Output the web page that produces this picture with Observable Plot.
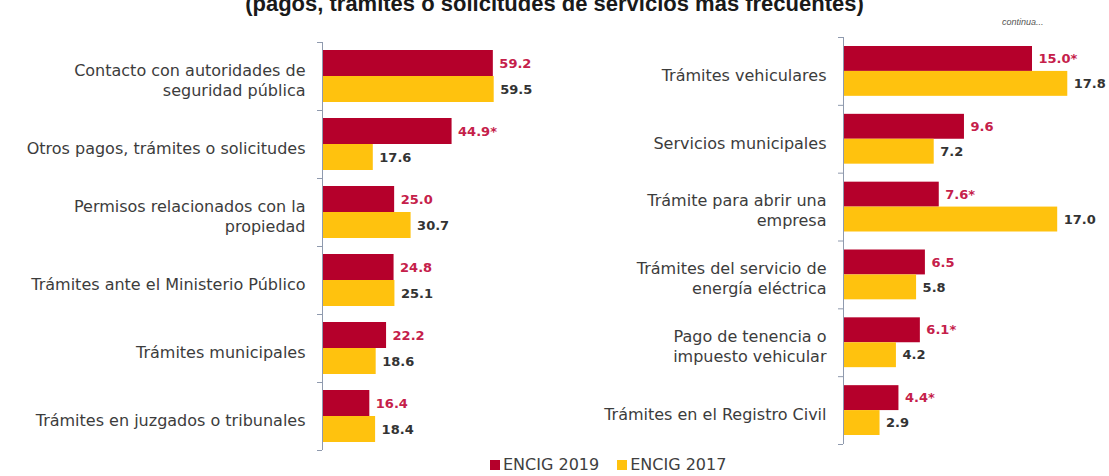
<!DOCTYPE html>
<html>
<head>
<meta charset="utf-8">
<script src="https://cdn.jsdelivr.net/npm/d3@7"></script>
<script src="https://cdn.jsdelivr.net/npm/@observablehq/plot@0.6"></script>
<style>
html, body { margin: 0; padding: 0; background: #fff; }
#wrap { position: relative; width: 1109px; height: 476px; overflow: hidden; font-family: "Liberation Sans", Arial, sans-serif; }
#title { position: absolute; left: 0; width: 1109px; top: -7px; text-align: center; font-weight: bold; font-size: 22px; line-height: 22px; color: #1a1a1a; white-space: nowrap; }
#cont { position: absolute; left: 1002px; top: 17px; font-size: 9px; font-style: italic; color: #555; }
#left, #right { position: absolute; top: 0; }
#left { left: 0; }
#right { left: 555px; }
#legend { position: absolute; top: 456px; left: 490px; display: flex; gap: 18px; font-family: "DejaVu Sans", sans-serif; font-size: 16px; color: #404040; line-height: 18px; }
#legend .item { display: flex; align-items: center; }
#legend .sw { width: 10px; height: 10px; margin-right: 3px; display: inline-block; }
</style>
</head>
<body>
<div id="wrap">
  <div id="title">(pagos, trámites o solicitudes de servicios más frecuentes)</div>
  <div id="cont">continua...</div>
  <div id="left"></div>
  <div id="right"></div>
  <div id="legend"></div>
</div>
<script>
// ---- data ----
const seriesNames = ["ENCIG 2019", "ENCIG 2017"];
const seriesColors = ["#b5002b", "#ffc20e"];

const leftCategories = [
  "Contacto con autoridades de\nseguridad pública",
  "Otros pagos, trámites o solicitudes",
  "Permisos relacionados con la\npropiedad",
  "Trámites ante el Ministerio Público",
  "Trámites municipales",
  "Trámites en juzgados o tribunales"
];
const left2019 = [59.2, 44.9, 25.0, 24.8, 22.2, 16.4];
const left2019Sig = [false, true, false, false, false, false];
const left2017 = [59.5, 17.6, 30.7, 25.1, 18.6, 18.4];

const rightCategories = [
  "Trámites vehiculares",
  "Servicios municipales",
  "Trámite para abrir una\nempresa",
  "Trámites del servicio de\nenergía eléctrica",
  "Pago de tenencia o\nimpuesto vehicular",
  "Trámites en el Registro Civil"
];
const right2019 = [15.0, 9.6, 7.6, 6.5, 6.1, 4.4];
const right2019Sig = [true, false, true, false, true, true];
const right2017 = [17.8, 7.2, 17.0, 5.8, 4.2, 2.9];

// ---- drawing ----
function panel(cats, v19, sig19, v17, o) {
  const rows = cats.map((c, i) => ({
    cat: c, v19: v19[i], v17: v17[i],
    l19: v19[i].toFixed(1) + (sig19[i] ? "*" : ""),
    l17: v17[i].toFixed(1)
  }));
  const bw = (o.height - o.mt - o.mb) / cats.length;
  const axisColor = "#8f9aae";
  return Plot.plot({
    width: o.width, height: o.height,
    marginLeft: o.ml, marginRight: o.mr, marginTop: o.mt, marginBottom: o.mb,
    x: {domain: o.xdom, axis: null},
    y: {domain: cats, padding: 0, round: false, axis: null},
    style: {background: "transparent", overflow: "visible"},
    marks: [
      Plot.barX(rows, {x: "v19", y: "cat", fill: seriesColors[0], insetTop: o.gap, insetBottom: bw / 2}),
      Plot.barX(rows, {x: "v17", y: "cat", fill: seriesColors[1], insetTop: bw / 2, insetBottom: o.gap}),
      Plot.ruleX([0], {stroke: axisColor, strokeWidth: 1}),
      Plot.ruleY(cats, {y: d => d, x1: d => 0, x2: d => 0, insetLeft: -5, dy: -bw / 2, stroke: axisColor}),
      Plot.ruleY(cats.slice(-1), {y: d => d, x1: d => 0, x2: d => 0, insetLeft: -5, dy: bw / 2, stroke: axisColor}),
      Plot.text(rows, {x: "v19", y: "cat", text: "l19", dx: 6, dy: -(bw / 2 - o.gap) / 2, textAnchor: "start",
        fill: "#c5204a", fontWeight: "bold", fontSize: 13, fontFamily: "DejaVu Sans"}),
      Plot.text(rows, {x: "v17", y: "cat", text: "l17", dx: 6, dy: (bw / 2 - o.gap) / 2, textAnchor: "start",
        fill: "#333333", fontWeight: "bold", fontSize: 13, fontFamily: "DejaVu Sans"}),
      Plot.text(cats, {y: d => d, text: d => d, frameAnchor: "left", textAnchor: "end", dx: -17, dy: 3,
        lineHeight: 1.25, fontSize: 16, fill: "#3c3c3c", fontFamily: "DejaVu Sans"})
    ]
  });
}

document.getElementById("left").appendChild(
  panel(leftCategories, left2019, left2019Sig, left2017,
    {width: 555, height: 462, ml: 322, mr: 31, mt: 42, mb: 12, xdom: [0, 70], gap: 8})
);
document.getElementById("right").appendChild(
  panel(rightCategories, right2019, right2019Sig, right2017,
    {width: 554, height: 462, ml: 288, mr: 14, mt: 37, mb: 18, xdom: [0, 20], gap: 9})
);

const legend = document.getElementById("legend");
seriesNames.forEach((n, i) => {
  const it = document.createElement("div");
  it.className = "item";
  const sw = document.createElement("span");
  sw.className = "sw";
  sw.style.background = seriesColors[i];
  it.appendChild(sw);
  it.appendChild(document.createTextNode(n));
  legend.appendChild(it);
});
</script>
</body>
</html>
